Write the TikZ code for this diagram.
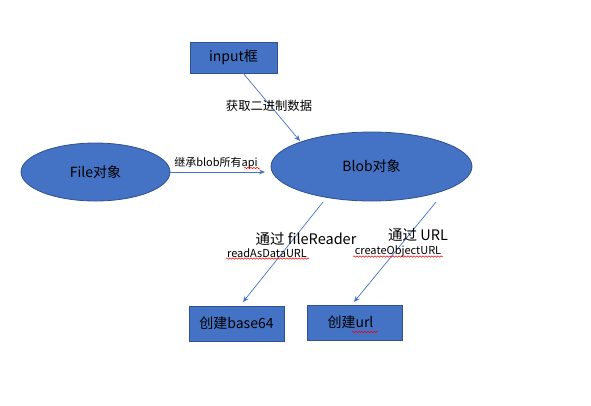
\documentclass[tikz,border=0pt]{standalone}
\usepackage{fontspec}
\setmainfont{Noto Sans CJK SC}
\usetikzlibrary{arrows.meta,decorations.pathmorphing,shapes.geometric}
\definecolor{fillblue}{HTML}{4472C4}
\definecolor{edgeblue}{HTML}{2F528F}
\definecolor{lineblue}{HTML}{4472C4}
\tikzset{
  shapebox/.style={draw=edgeblue, line width=0.8pt, fill=fillblue, inner sep=0pt, font=\fontsize{14}{16}\selectfont, text=black},
  ell/.style={shapebox, ellipse},
  rbox/.style={shapebox, rectangle},
  conn/.style={draw=lineblue, line width=0.7pt, -{Stealth[length=6pt,width=5pt]}},
  elabel/.style={font=\fontsize{11}{13}\selectfont, text=black, inner sep=0pt},
  biglabel/.style={font=\fontsize{14.5}{16}\selectfont, text=black, inner sep=0pt},
  smalllabel/.style={font=\fontsize{11}{12}\selectfont, text=black, inner sep=0pt},
  squiggle/.style={draw=red, line width=0.5pt, decorate, decoration={snake, amplitude=0.7pt, segment length=3pt}}
}
\begin{document}
\begin{tikzpicture}[x=1pt,y=-1pt]
\useasboundingbox (0,0) rectangle (591,405);
\node[rbox, minimum width=87pt, minimum height=31pt] (input) at (233.5,57.5) {input框};
\node[ell, minimum width=149pt, minimum height=58pt] (file) at (95.5,172) {File对象};
\node[ell, minimum width=201pt, minimum height=69pt] (blob) at (371.5,166.5) {Blob对象};
\node[rbox, minimum width=95pt, minimum height=35pt] (b64) at (236.5,323.5) {创建base64};
\node[rbox, minimum width=95pt, minimum height=35pt] (url) at (354.5,322.5) {\hspace*{-8pt}创建url};

\coordinate (inS) at (243,73);
\coordinate (inE) at (300,141);
\draw[conn] (inS) -- (inE);
\coordinate (fE) at (265,172);
\draw[conn] (file.east) -- (fE);
\coordinate (l1S) at (323,202);
\coordinate (l1E) at (243,302);
\draw[conn] (l1S) -- (l1E);
\coordinate (l2S) at (436,202);
\coordinate (l2E) at (354,302);
\draw[conn] (l2S) -- (l2E);

\node[elabel, font=\fontsize{12.3}{14}\selectfont] (lab1) at (269,106) {获取二进制数据};
\node[elabel] (lab2) at (216,163) {继承blob所有api};
\node[biglabel] (lab3) at (306,239) {通过 fileReader};
\node[smalllabel] (lab4) at (267,253) {readAsDataURL};
\node[biglabel] (lab5) at (418,235) {通过 URL};
\node[smalllabel] (lab6) at (398,251) {createObjectURL};

\draw[squiggle] (244,168) -- (260,168);
\draw[squiggle] (226,258.5) -- (309,258.5);
\draw[squiggle] (353,256.5) -- (443,256.5);
\draw[squiggle] (352,332) -- (378,332);
\end{tikzpicture}
\end{document}
